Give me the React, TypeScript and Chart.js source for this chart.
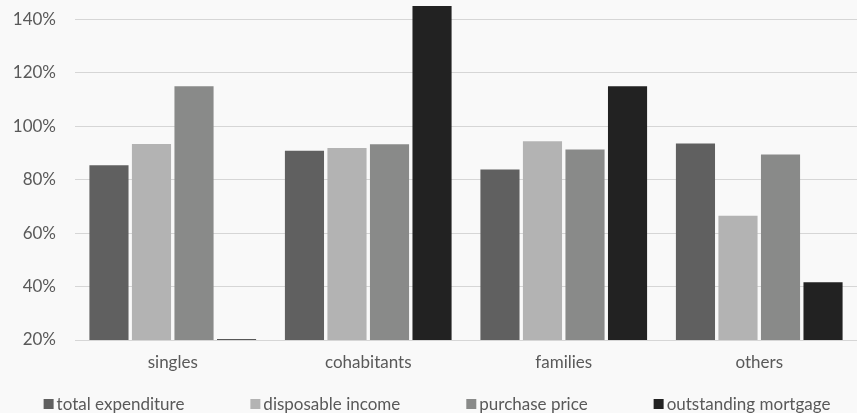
import React, { useEffect, useRef } from "react";
import { Chart, registerables } from "chart.js";

Chart.register(...registerables);

const categories = ["singles", "cohabitants", "families", "others"];
const seriesNames = ["total expenditure", "disposable income", "purchase price", "outstanding mortgage"];
const totalExpenditure = [85.4, 90.8, 83.8, 93.5];
const disposableIncome = [93.4, 91.9, 94.4, 66.5];
const purchasePrice = [115, 93.3, 91.3, 89.4];
const outstandingMortgage = [20.3, 145, 115, 41.6];
const seriesColors = ["#606060", "#b3b3b3", "#898a89", "#222222"];
const yTicks = [20, 40, 60, 80, 100, 120, 140];

const FONT = "Lato, 'Open Sans', sans-serif";
const TEXT = "#595959";

// Single-row legend along the bottom edge: square swatch, short gap, label.
const bottomLegend = {
  id: "bottomLegend",
  afterDraw(chart: any) {
    const { ctx } = chart;
    const box = 10;
    const gap = 3;
    const itemGap = 66;
    const cy = chart.height - 9;
    ctx.save();
    ctx.font = `17px ${FONT}`;
    ctx.textBaseline = "middle";
    ctx.textAlign = "left";
    const items = chart.data.datasets.map((ds: any) => ({
      label: ds.label as string,
      color: ds.backgroundColor as string,
      w: box + gap + ctx.measureText(ds.label).width,
    }));
    const total = items.reduce((s: number, it: any) => s + it.w, 0) + itemGap * (items.length - 1);
    let x = 437 - total / 2;
    for (const it of items) {
      ctx.fillStyle = it.color;
      ctx.fillRect(x, cy - box / 2, box, box);
      ctx.fillStyle = TEXT;
      ctx.fillText(it.label, x + box + gap, cy + 1);
      x += it.w + itemGap;
    }
    ctx.restore();
  },
};

export default function App() {
  const ref = useRef<HTMLCanvasElement>(null);

  useEffect(() => {
    if (!ref.current) return;
    const values = [totalExpenditure, disposableIncome, purchasePrice, outstandingMortgage];
    const chart = new Chart(ref.current, {
      type: "bar",
      data: {
        labels: categories,
        datasets: seriesNames.map((name, i) => ({
          label: name,
          data: values[i],
          backgroundColor: seriesColors[i],
          borderWidth: 0,
          categoryPercentage: 0.87,
          barPercentage: 0.92,
        })),
      },
      options: {
        animation: false,
        responsive: false,
        maintainAspectRatio: false,
        layout: { padding: { top: 6, right: 0, left: 0, bottom: 33 } },
        scales: {
          x: {
            grid: { display: false },
            border: { display: true, color: "#d6d6d6", width: 1 },
            afterFit: (scale: any) => {
              scale.height = 40;
            },
            ticks: { color: TEXT, font: { family: FONT, size: 17 }, padding: 4 },
          },
          y: {
            min: 20,
            max: 145,
            border: { display: false },
            grid: { color: "#d6d6d6", lineWidth: 1, drawTicks: false },
            afterBuildTicks: (scale: any) => {
              scale.ticks = yTicks.map((v) => ({ value: v }));
            },
            afterFit: (scale: any) => {
              scale.width = 75;
              scale.paddingTop = 0;
              scale.paddingBottom = 0;
            },
            ticks: {
              color: TEXT,
              font: { family: FONT, size: 17 },
              padding: 19,
              callback: (v: any) => `${v}%`,
            },
          },
        },
        plugins: {
          tooltip: { enabled: false },
          legend: { display: false },
        },
      },
      plugins: [bottomLegend],
    });
    return () => chart.destroy();
  }, []);

  return (
    <div style={{ position: "fixed", left: 0, top: 0, width: 857, height: 413, background: "#f9f9f9" }}>
      <canvas ref={ref} width={857} height={413} style={{ display: "block" }} />
    </div>
  );
}
